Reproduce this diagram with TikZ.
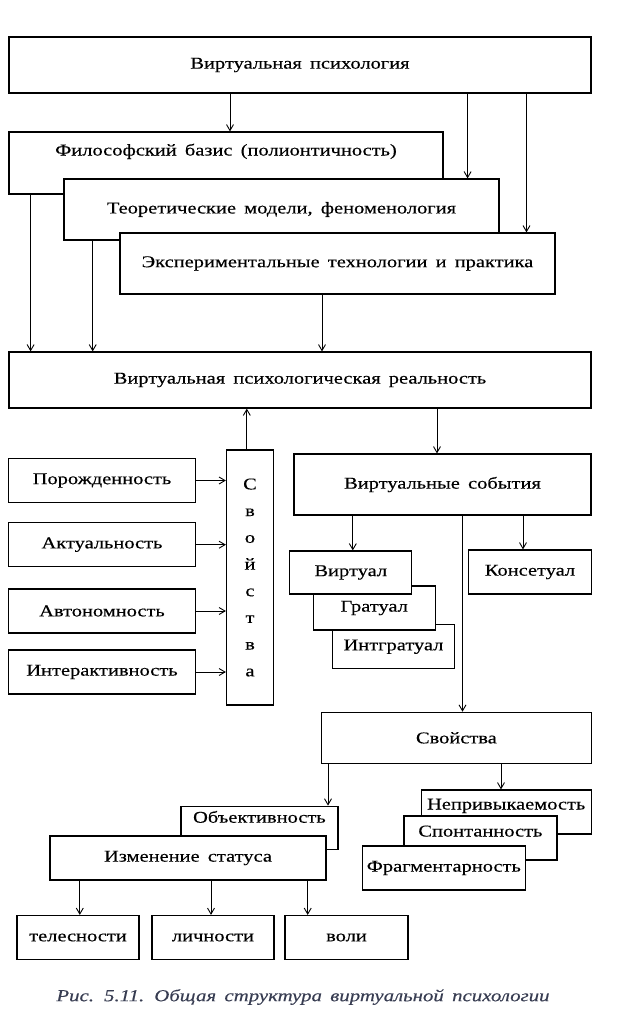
\documentclass[tikz,border=0pt]{standalone}
\usepackage{fontspec}
\setmainfont{Liberation Serif}[FakeStretch=1.24,WordSpace=1.6,FakeBold=0.3]
\usetikzlibrary{arrows.meta,calc}
\definecolor{capt}{rgb}{0.22,0.24,0.32}
\tikzset{
    box/.style =    {rectangle,
                    fill=white,
                    draw=black,
                    text=black,
                    line width=1.2pt,
                    inner sep=0pt,
                    font=\fontsize{16.5pt}{19pt}\selectfont},
    wbox/.style =   {box,
                    minimum width=582pt,
                    minimum height=56pt},
    lbox/.style =   {box,
                    minimum width=435pt,
                    minimum height=61pt},
    pbox/.style =   {box,
                    minimum width=187pt,
                    minimum height=44pt},
    sbox/.style =   {box,
                    minimum width=122pt,
                    minimum height=44pt},
    lift/.style =   {text height=11pt,
                    text depth=#1},
    -,
    >={Straight Barb[length=6pt,width=7pt]},
    link/.style =   {line width=0.9pt,->}
}
\begin{document}
\begin{tikzpicture}[x=1pt,y=-1pt]
\useasboundingbox (0,0) rectangle (616,1012);
% top: psychology and its three layers
\node[wbox]                                        (psy)  at (300,65)    {Виртуальная психология};
\node[lbox,minimum width=434pt,minimum height=62pt,lift=26pt]
                                                   (phil) at (226,163)   {Философский базис (полионтичность)};
\node[lbox]                                        (teor) at (281.5,209.5) {Теоретические модели, феноменология};
\node[lbox]                                        (eksp) at (337.5,263.5) {Экспериментальные технологии и практика};
\node[wbox]                                        (real) at (300,380)   {Виртуальная психологическая реальность};
\path [link]    (230,0 |- psy.south)   edge (230,0 |- phil.north)
                (467.6,0 |- psy.south) edge (467.6,0 |- teor.north)
                (526.5,0 |- psy.south) edge (526.5,0 |- eksp.north)
                (30.6,0 |- phil.south) edge (30.6,0 |- real.north)
                (92.7,0 |- teor.south) edge (92.7,0 |- real.north)
                (322,0 |- eksp.south)  edge (322,0 |- real.north);
% left: properties
\node[pbox]                                        (porozh) at (102,480.5) {Порожденность};
\node[pbox]                                        (aktual) at (102,544.7) {Актуальность};
\node[pbox]                                        (avton)  at (102,611)   {Автономность};
\node[pbox]                                        (inter)  at (102,672)   {Интерактивность};
\node[box,minimum width=47pt,minimum height=255pt,align=center,
      font=\fontsize{16.5pt}{26.7pt}\selectfont]   (svva)   at (250,577.5) {С\\в\\о\\й\\с\\т\\в\\а};
\path [link]    (porozh.east) edge (porozh.east -| svva.west)
                (aktual.east) edge (aktual.east -| svva.west)
                (avton.east)  edge (avton.east -| svva.west)
                (inter.east)  edge (inter.east -| svva.west)
                (246.8,0 |- svva.north) edge (246.8,0 |- real.south);
% right: events
\node[box,minimum width=297pt,minimum height=61pt] (vsob)   at (442.5,484.5) {Виртуальные события};
\node[sbox,minimum height=44pt]                    (intgr)  at (393.5,646.7) {Интгратуал};
\node[sbox,minimum height=44pt]                    (grat)   at (374.2,608)   {Гратуал};
\node[sbox,minimum height=43pt]                    (virt)   at (350.8,572.5) {Виртуал};
\node[sbox,minimum width=123pt]                    (konset) at (530,572)     {Консетуал};
\node[box,minimum width=270pt,minimum height=51pt] (svojstva) at (456.4,737.8) {Свойства};
\path [link]    (437,0 |- real.south)   edge (437,0 |- vsob.north)
                (352.8,0 |- vsob.south) edge (352.8,0 |- virt.north)
                (523,0 |- vsob.south)   edge (523,0 |- konset.north)
                (462.5,0 |- vsob.south) edge (462.5,0 |- svojstva.north);
% bottom
\node[box,minimum width=157pt,minimum height=43pt,lift=21pt] (obekt) at (259.4,827.7) {Объективность};
\node[box,minimum width=276pt,minimum height=44pt] (izmen)  at (188,858)   {Изменение статуса};
\node[box,minimum width=170pt,minimum height=44pt,lift=16pt] (neprivyk) at (506.2,812) {Непривыкаемость};
\node[box,minimum width=153pt,minimum height=44pt,lift=14pt] (spont) at (480.4,838) {Спонтанность};
\node[box,minimum width=163pt,minimum height=44pt] (fragm)  at (443.8,868) {Фрагментарность};
\node[sbox]                                        (teles)  at (78,937.5)  {телесности};
\node[sbox]                                        (lichn)  at (213,937.5) {личности};
\node[sbox,minimum width=123pt]                    (voli)   at (346.5,937.5) {воли};
\path [link]    (328,0 |- svojstva.south)  edge (328,0 |- obekt.north)
                (501,0 |- svojstva.south)  edge (501,0 |- neprivyk.north)
                (79.8,0 |- izmen.south)    edge (79.8,0 |- teles.north)
                (211,0 |- izmen.south)     edge (211,0 |- lichn.north)
                (307.7,0 |- izmen.south)   edge (307.7,0 |- voli.north);
\node[font=\itshape\fontsize{16.8pt}{20pt}\selectfont,text=capt]
                                                   (cap)    at (303,997) {Рис. 5.11. Общая структура виртуальной психологии};
\end{tikzpicture}
\end{document}
